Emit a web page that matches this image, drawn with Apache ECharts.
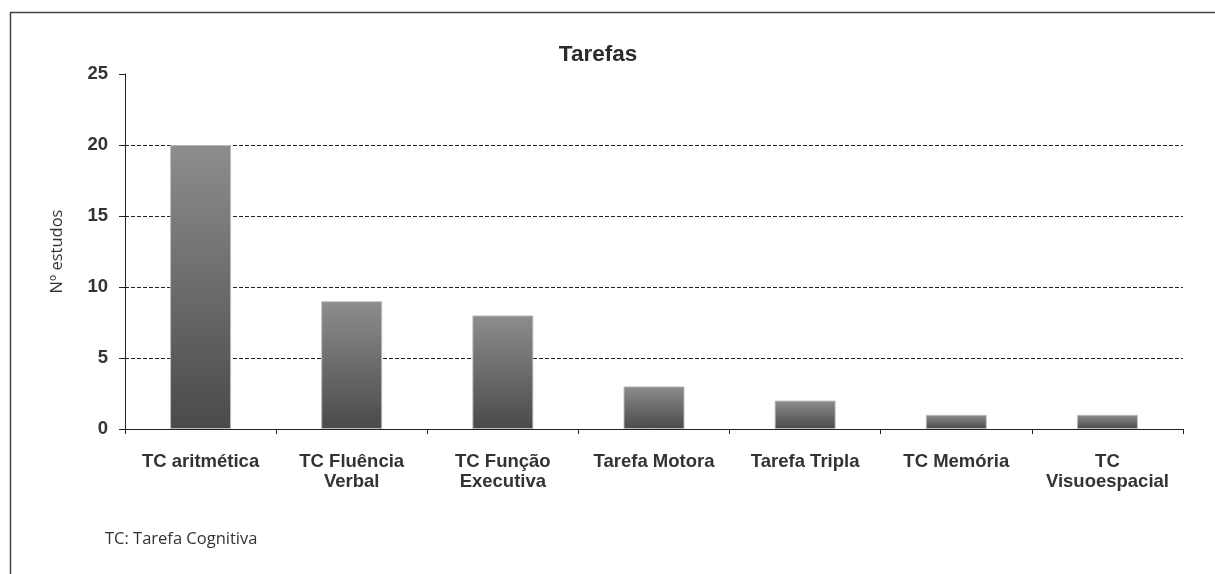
<!DOCTYPE html>
<html>
<head>
<meta charset="utf-8">
<script src="https://cdn.jsdelivr.net/npm/echarts@6/dist/echarts.min.js"></script>
<style>
  html, body { margin: 0; padding: 0; background: #fff; }
  #chart { width: 1215px; height: 574px; }
</style>
</head>
<body>
<div id="chart"></div>
<script>
const categories = ['TC aritmética', 'TC Fluência\nVerbal', 'TC Função\nExecutiva', 'Tarefa Motora', 'Tarefa Tripla', 'TC Memória', 'TC\nVisuoespacial'];
const values = [20, 9, 8, 3, 2, 1, 1];
const titleText = 'Tarefas';
const yAxisName = 'Nº estudos';
const footnote = 'TC: Tarefa Cognitiva';

const chart = echarts.init(document.getElementById('chart'), null, { renderer: 'canvas' });
chart.setOption({
  backgroundColor: '#ffffff',
  animation: false,
  title: {
    text: titleText,
    left: 593, top: 38, textAlign: 'center',
    textStyle: { fontFamily: 'Liberation Sans, Arial', fontWeight: 'bold', fontSize: 22.5, color: '#2b2b2b' }
  },
  grid: { left: 125, right: 32, top: 74, bottom: 145, containLabel: false },
  xAxis: {
    type: 'category',
    data: categories,
    axisLine: { lineStyle: { color: '#222', width: 1 } },
    axisTick: { show: true, length: 5, lineStyle: { color: '#222' } },
    axisLabel: {
      interval: 0, margin: 23, lineHeight: 20,
      fontFamily: 'Liberation Sans, Arial', fontWeight: 'bold', fontSize: 18.5, color: '#333'
    }
  },
  yAxis: {
    type: 'value', min: 0, max: 25, interval: 5,
    name: yAxisName, nameLocation: 'middle', nameGap: 59, nameRotate: 90,
    nameTextStyle: { fontFamily: 'Open Sans, Noto Sans', fontSize: 16.5, color: '#333' },
    axisLine: { show: true, lineStyle: { color: '#222', width: 1 } },
    axisTick: { show: true, length: 6, lineStyle: { color: '#222' } },
    axisLabel: { margin: 17, fontFamily: 'Liberation Sans, Arial', fontWeight: 'bold', fontSize: 18.5, color: '#333' },
    splitLine: { show: true, showMaxLine: false, lineStyle: { color: '#222', type: [4, 2], width: 1 } }
  },
  series: [{
    type: 'bar',
    data: values,
    barWidth: 61,
    itemStyle: {
      color: new echarts.graphic.LinearGradient(0, 0, 0, 1, [
        { offset: 0, color: '#8d8d8f' },
        { offset: 1, color: '#4a4a4c' }
      ]),
      borderColor: 'rgba(190,190,190,0.9)',
      borderWidth: 1
    }
  }],
  graphic: [
    {
      type: 'polyline',
      shape: { points: [[10.5, 700], [10.5, 12.5], [1300, 12.5]] },
      style: { stroke: '#444', lineWidth: 1.5, fill: null },
      silent: true
    },
    {
      type: 'text',
      left: 105, top: 531,
      style: { text: footnote, font: '16.5px "Open Sans", "Noto Sans"', fill: '#333' }
    }
  ]
});
</script>
</body>
</html>
